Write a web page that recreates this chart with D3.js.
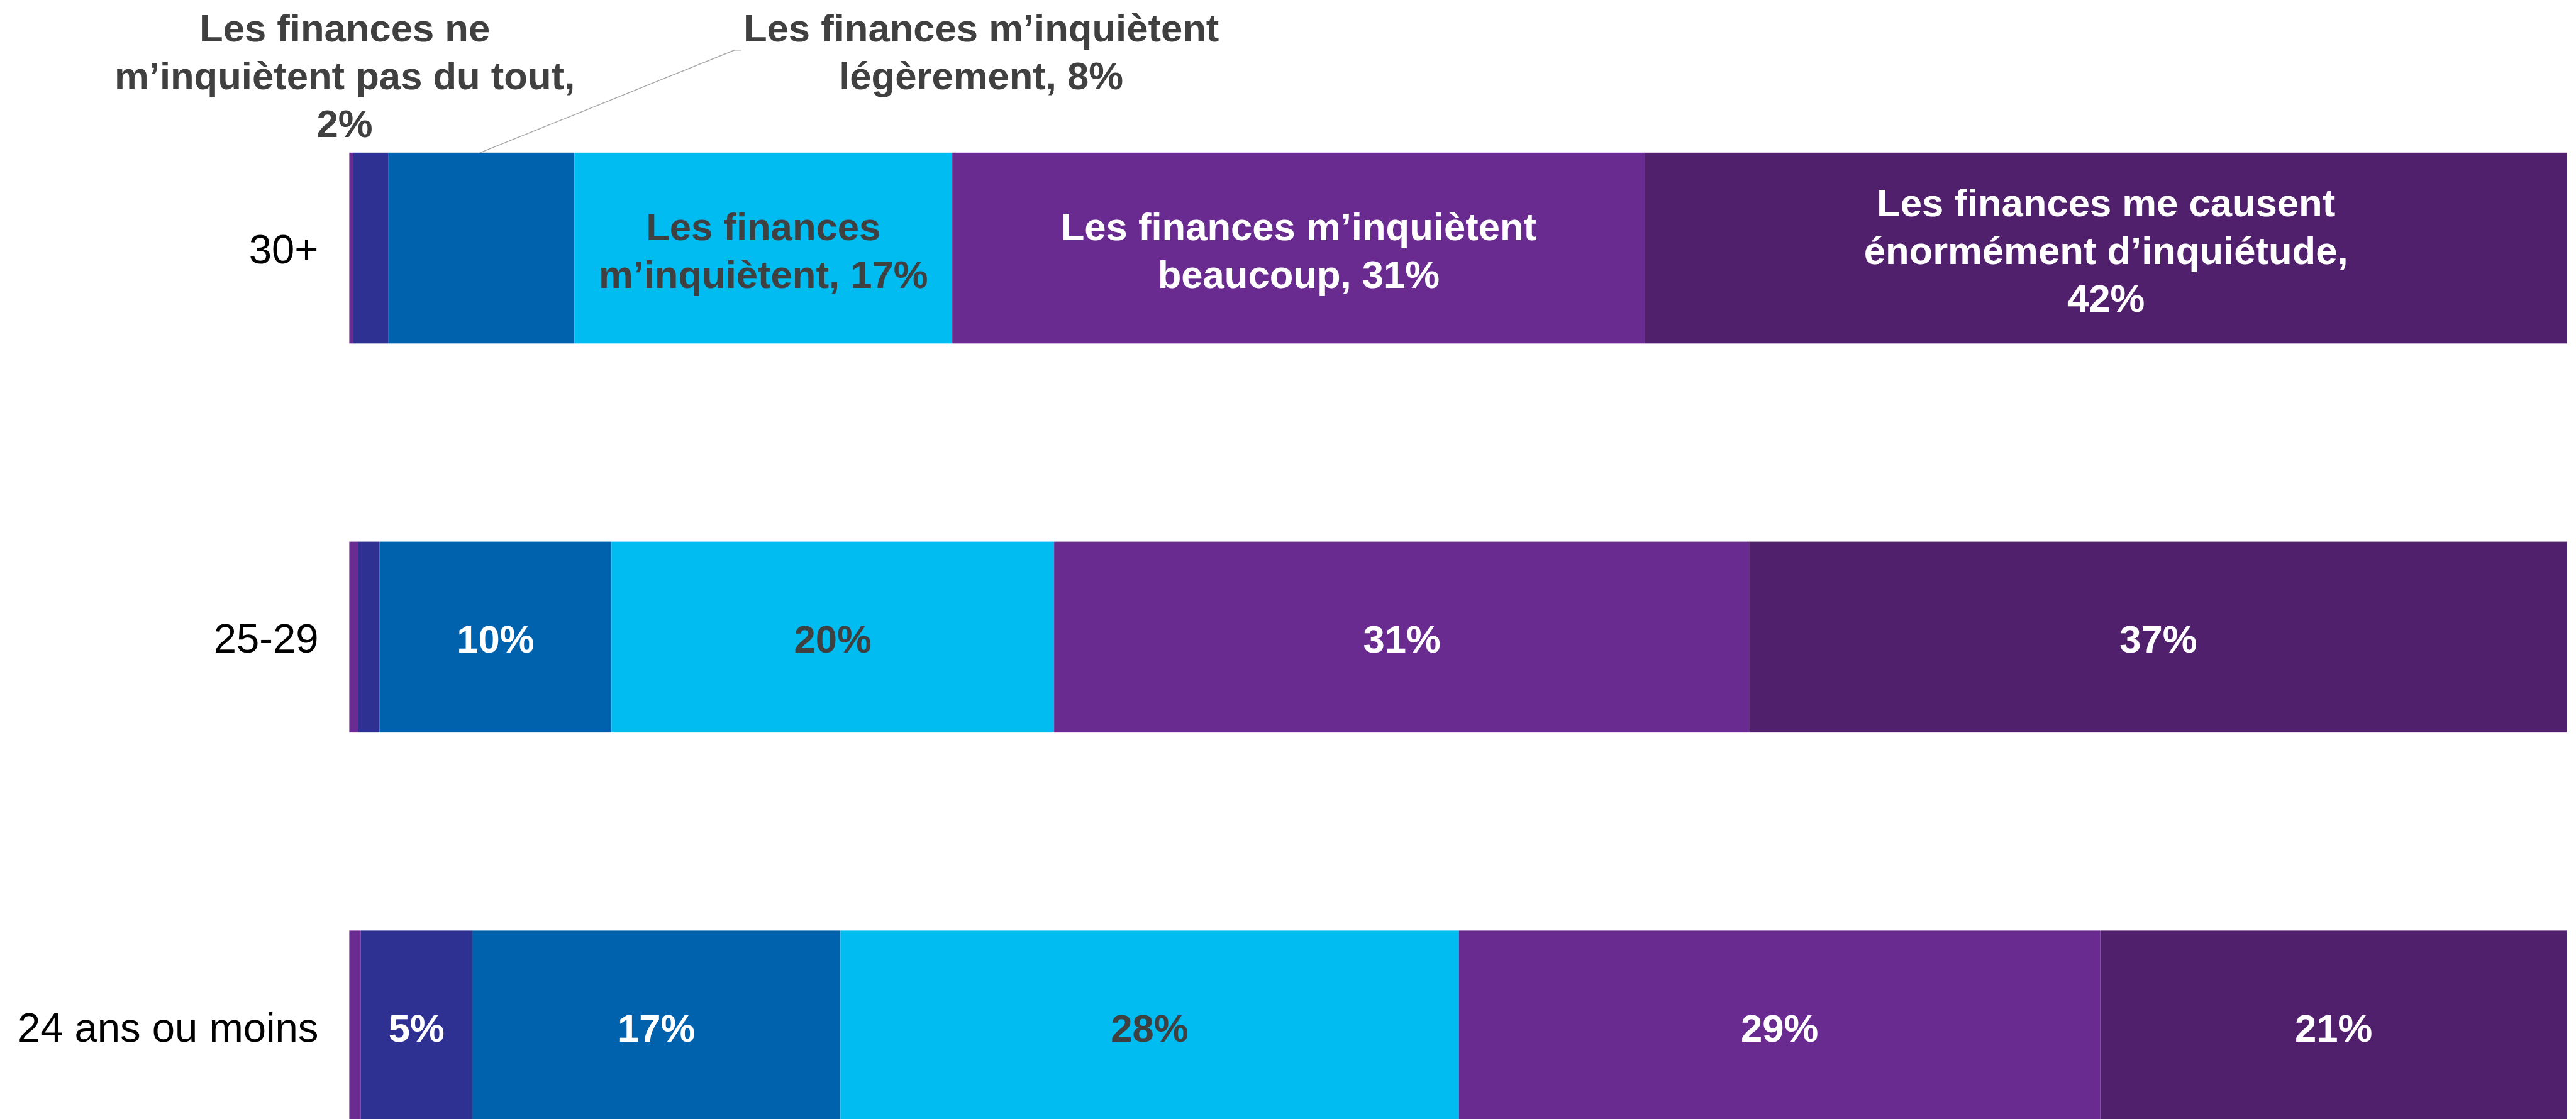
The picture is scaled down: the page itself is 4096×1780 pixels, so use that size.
<!DOCTYPE html>
<html><head><meta charset="utf-8">
<script src="https://cdn.jsdelivr.net/npm/d3@7"></script>
<style>html,body{margin:0;padding:0;background:#fff;overflow:hidden}</style>
</head><body><svg id="chart" width="4096" height="1780"></svg>
<script>
// ---------- data ----------
const categories = ["30+", "25-29", "24 ans ou moins"];
const seriesKeys = ["autre", "pasDuTout", "legerement", "inquietent", "beaucoup", "enormement"];
const autre      = [0.18, 0.40, 0.52];
const pasDuTout  = [1.59, 0.96, 5.02];
const legerement = [8.38, 10.46, 16.61];
const inquietent = [17.04, 19.96, 27.88];
const beaucoup   = [31.24, 31.37, 28.93];
const enormement = [41.57, 36.84, 21.04];

// in-bar labels (null = no label)
const labelsAutre      = [null, null, null];
const labelsPasDuTout  = [null, null, ["5%"]];
const labelsLegerement = [null, ["10%"], ["17%"]];
const labelsInquietent = [["Les finances", "m’inquiètent, 17%"], ["20%"], ["28%"]];
const labelsBeaucoup   = [["Les finances m’inquiètent", "beaucoup, 31%"], ["31%"], ["29%"]];
const labelsEnormement = [["Les finances me causent", "énormément d’inquiétude,", "42%"], ["37%"], ["21%"]];

// callouts above the first bar
const calloutPasDuTout  = ["Les finances ne", "m’inquiètent pas du tout,", "2%"];
const calloutLegerement = ["Les finances m’inquiètent", "légèrement, 8%"];
const calloutLeaderValue = 5.9; // where the leader line meets the bar (in %)

// ---------- styles ----------
const S = 0.906;
const seriesColors = {autre: "#6a2c91", pasDuTout: "#2e3192", legerement: "#0061ad",
  inquietent: "#00bcf1", beaucoup: "#692b8f", enormement: "#51206d"};
const labelColors = {autre: "#fff", pasDuTout: "#fff", legerement: "#fff",
  inquietent: "#404040", beaucoup: "#fff", enormement: "#fff"};
const FONT = "'Liberation Sans', Arial, sans-serif";
const labelSize = 68 * S, lineGap = 84 * S, catSize = 72 * S;

const seriesValues = {autre, pasDuTout, legerement, inquietent, beaucoup, enormement};
const seriesLabels = {autre: labelsAutre, pasDuTout: labelsPasDuTout, legerement: labelsLegerement,
  inquietent: labelsInquietent, beaucoup: labelsBeaucoup, enormement: labelsEnormement};

const rows = categories.map((c, i) => {
  const r = {category: c};
  seriesKeys.forEach(k => r[k] = seriesValues[k][i]);
  return r;
});

const svg = d3.select("#chart");
const xStart = 613 * S, xEnd = 4505 * S;
const x = d3.scaleLinear().domain([0, 1]).range([xStart, xEnd]);
const bandPad = 0.5095, bandStep = 683 * S, plotTop = 268 * S;
const y = d3.scaleBand().domain(categories)
  .range([plotTop, plotTop + bandStep * (categories.length - bandPad)])
  .paddingInner(bandPad).paddingOuter(0);

const stack = d3.stack().keys(seriesKeys).offset(d3.stackOffsetExpand);
const layers = stack(rows);

const g = svg.append("g");
layers.forEach(layer => {
  const key = layer.key;
  g.selectAll(null).data(layer).enter().append("rect")
    .attr("x", d => x(d[0]))
    .attr("y", d => y(d.data.category))
    .attr("width", d => x(d[1]) - x(d[0]))
    .attr("height", y.bandwidth())
    .attr("fill", seriesColors[key]);
});

// in-bar labels
layers.forEach(layer => {
  const key = layer.key;
  layer.forEach((d, i) => {
    const lines = seriesLabels[key][i];
    if (!lines) return;
    const cx = (x(d[0]) + x(d[1])) / 2;
    const cy = y(d.data.category) + y.bandwidth() / 2 + 0.716 * labelSize / 2 + 3;
    const t = g.append("text")
      .attr("text-anchor", "middle")
      .attr("font-family", FONT).attr("font-weight", "bold")
      .attr("font-size", labelSize).attr("fill", labelColors[key]);
    lines.forEach((ln, j) => {
      t.append("tspan").attr("x", cx)
        .attr("y", cy + (j - (lines.length - 1) / 2) * lineGap)
        .text(ln);
    });
  });
});

// category axis labels
const yAxis = d3.axisLeft(y).tickSize(0).tickPadding(0);
const ax = svg.append("g").attr("transform", `translate(${559 * S},0)`).call(yAxis);
ax.select(".domain").remove();
ax.selectAll("text")
  .attr("font-family", FONT).attr("font-size", catSize).attr("fill", "#000")
  .attr("dy", null)
  .attr("y", 0.716 * catSize / 2 + 1);

// callouts
function callout(lines, cx, firstBaseline) {
  const t = svg.append("text").attr("text-anchor", "middle")
    .attr("font-family", FONT).attr("font-weight", "bold")
    .attr("font-size", labelSize).attr("fill", "#404040");
  lines.forEach((ln, j) => t.append("tspan").attr("x", cx)
    .attr("y", firstBaseline + j * lineGap).text(ln));
}
callout(calloutPasDuTout, 605 * S, 73 * S);
callout(calloutLegerement, 1722 * S, 73 * S);

// leader line
const barTop = y(categories[0]);
svg.append("polyline")
  .attr("points", [[1301 * S, 88 * S], [1289 * S, 88 * S], [x(calloutLeaderValue / 100), barTop]].map(p => p.join(",")).join(" "))
  .attr("fill", "none").attr("stroke", "#a6a6a6").attr("stroke-width", 1.4);
</script>
</body></html>
